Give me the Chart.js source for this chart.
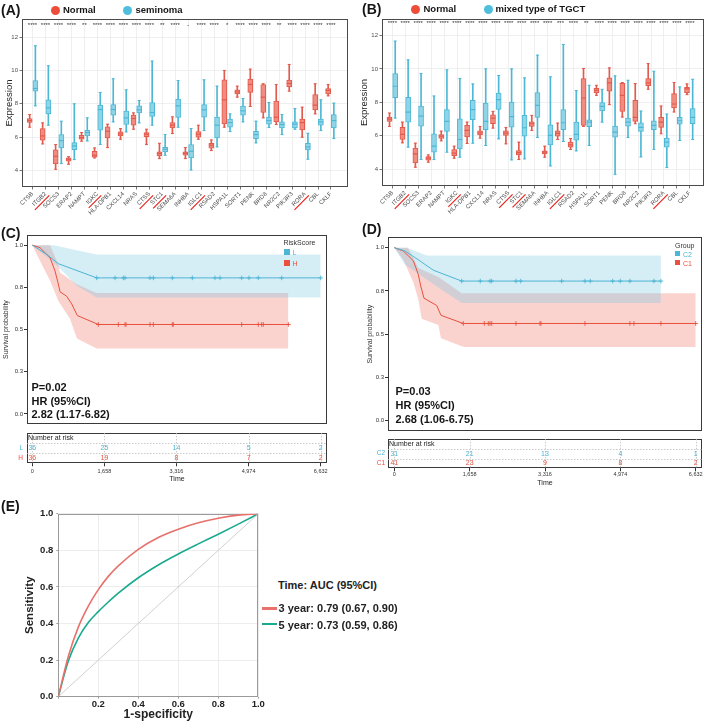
<!DOCTYPE html>
<html><head><meta charset="utf-8">
<script src="https://cdn.jsdelivr.net/npm/chart.js@4/dist/chart.umd.min.js"></script>
<style>
html,body{margin:0;padding:0;background:#fff;}
#fig{position:relative;width:709px;height:722px;overflow:hidden;background:#fff;font-family:"Liberation Sans",Arial,Helvetica,sans-serif;color:#151515;}
canvas{position:absolute;}
.t{position:absolute;white-space:nowrap;line-height:1;transform:translateY(-50%);}
.b{font-weight:bold;}
.dot{position:absolute;border-radius:50%;}
.sq{position:absolute;width:5.5px;height:5.5px;}
.ln{position:absolute;height:2.5px;}
</style></head><body>
<div id="fig">
<canvas id="cA" width="355" height="250" style="left:0;top:0"></canvas>
<canvas id="cB" width="354" height="250" style="left:355px;top:0"></canvas>
<canvas id="cC" width="355" height="204" style="left:0;top:225px"></canvas>
<canvas id="cCt" width="355" height="65" style="left:0;top:425px"></canvas>
<canvas id="cD" width="354" height="209" style="left:355px;top:227px"></canvas>
<canvas id="cDt" width="354" height="60" style="left:355px;top:432px"></canvas>
<canvas id="cE" width="272" height="217" style="left:0;top:505px"></canvas>

<div class="t b" style="left:1px;top:10px;font-size:14px">(A)</div>
<div class="dot" style="left:50.5px;top:5.5px;width:9px;height:9px;background:#EE4D3A"></div>
<div class="t b" style="left:63px;top:10px;font-size:9.5px">Normal</div>
<div class="dot" style="left:123px;top:5.5px;width:9px;height:9px;background:#4DBFDD"></div>
<div class="t b" style="left:135.5px;top:10px;font-size:9.5px">seminoma</div>

<div class="t b" style="left:362px;top:9px;font-size:14px">(B)</div>
<div class="dot" style="left:410.5px;top:4.8px;width:9px;height:9px;background:#EE4D3A"></div>
<div class="t b" style="left:423.5px;top:9.3px;font-size:9.5px">Normal</div>
<div class="dot" style="left:483.8px;top:4.8px;width:9px;height:9px;background:#4DBFDD"></div>
<div class="t b" style="left:495.5px;top:9.3px;font-size:9.5px">mixed type of TGCT</div>

<div class="t b" style="left:1px;top:232.5px;font-size:14px">(C)</div>
<div class="t" style="left:283.5px;top:241.7px;font-size:7px;color:#333">RiskScore</div>
<div class="sq" style="left:284px;top:249.3px;background:#4DB6D5"></div>
<div class="t" style="left:292.5px;top:252px;font-size:7px;color:#4DB6D5">L</div>
<div class="sq" style="left:284px;top:260px;background:#E9503E"></div>
<div class="t" style="left:292.5px;top:262.8px;font-size:7px;color:#E9503E">H</div>
<div class="t b" style="left:31.5px;top:386.7px;font-size:11px">P=0.02</div>
<div class="t b" style="left:31.5px;top:400.5px;font-size:11px">HR (95%CI)</div>
<div class="t b" style="left:31.5px;top:414.3px;font-size:11px">2.82 (1.17-6.82)</div>

<div class="t b" style="left:362px;top:229.2px;font-size:14px">(D)</div>
<div class="t" style="left:675px;top:245px;font-size:7px;color:#333">Group</div>
<div class="sq" style="left:674.5px;top:250.8px;background:#4DB6D5"></div>
<div class="t" style="left:683px;top:253.5px;font-size:7px;color:#4DB6D5">C2</div>
<div class="sq" style="left:674.5px;top:259.8px;background:#E9503E"></div>
<div class="t" style="left:683px;top:262.5px;font-size:7px;color:#E9503E">C1</div>
<div class="t b" style="left:395.5px;top:391px;font-size:11px">P=0.03</div>
<div class="t b" style="left:395.5px;top:404.7px;font-size:11px">HR (95%CI)</div>
<div class="t b" style="left:395.5px;top:419px;font-size:11px">2.68 (1.06-6.75)</div>

<div class="t b" style="left:1px;top:506px;font-size:14px">(E)</div>
<div class="t b" style="left:278px;top:585px;font-size:11px;color:#222">Time: AUC (95%CI)</div>
<div class="ln" style="left:261.5px;top:607px;width:15.5px;background:#E8716C"></div>
<div class="t b" style="left:278.5px;top:608.3px;font-size:11px;color:#222">3 year: 0.79 (0.67, 0.90)</div>
<div class="ln" style="left:261.5px;top:622.8px;width:15.5px;background:#1AAA8E"></div>
<div class="t b" style="left:278.5px;top:625px;font-size:11px;color:#222">5 year: 0.73 (0.59, 0.86)</div>
</div>

<script>
// ---------------- DATA ----------------
const genes = ["CTSB","ITGB2","SOCS3","ERAP2","NAMPT","IGKC","HLA-DPB1","CXCL14","NRAS","CTSS","STC1","SEMA6A","INHBA","IGLC1","RSAD2","HSPA1L","SORT1","PENK","BRD8","NR2C2","PIK3R3","RORA","CBL","CKLF"];
const underlinedGenes = ["ITGB2","IGKC","CTSS","STC1","IGLC1","RORA"];
const boxYTicks = [4, 6, 8, 10, 12];
const sigA = ["****","****","****","****","**","****","****","****","****","****","**","****","-","****","****","*","****","****","****","**","****","****","****","****"];
const sigB = ["****","****","****","****","****","****","****","****","****","****","****","****","****","***","****","**","****","****","****","****","****","****","****","****"];
// [min, q1, median, q3, max]
const normalA = [
[6.6,6.88,7.0,7.12,7.36],[5.6,5.82,6.08,6.52,6.86],[4.08,4.4,4.86,5.24,5.56],[4.38,4.56,4.68,4.76,4.84],
[5.76,5.88,5.98,6.12,6.28],[4.76,4.8,4.92,5.16,5.36],[5.38,5.96,6.36,6.62,6.78],[5.88,6.08,6.2,6.32,6.52],
[6.48,6.72,7.12,7.32,7.46],[5.56,6.04,6.18,6.28,6.48],[4.72,4.88,5.02,5.12,5.64],[6.22,6.56,6.72,6.88,7.22],
[4.72,4.92,5.04,5.12,5.38],[5.88,6.0,6.18,6.34,6.72],[5.2,5.34,5.52,5.64,5.84],[6.6,6.8,8.24,9.44,10.0],
[8.4,8.6,8.72,8.84,9.06],[7.84,8.68,9.16,9.48,10.08],[7.16,7.48,8.4,9.16,9.2],[6.76,6.92,7.2,8.16,9.16],
[8.76,9.02,9.22,9.42,10.36],[6.0,6.44,6.88,7.08,7.8],[7.4,7.64,7.92,8.56,9.2],[8.48,8.6,8.8,8.92,9.16]];
const seminomaA = [
[7.88,8.76,8.92,9.4,11.48],[6.72,7.4,7.76,8.24,10.28],[4.42,5.36,5.8,6.16,6.96],[4.66,5.26,5.48,5.68,8.0],
[5.78,6.08,6.28,6.42,7.16],[5.56,6.42,7.66,7.92,8.68],[6.92,7.32,7.66,7.96,9.5],[6.32,6.76,7.16,7.56,8.84],
[6.86,7.46,7.64,7.88,8.2],[6.72,7.24,7.48,8.08,10.56],[4.92,5.12,5.28,5.4,6.16],[6.6,7.18,7.88,8.28,9.4],
[4.04,4.76,5.16,5.56,6.52],[6.4,7.2,7.64,7.96,9.44],[5.42,5.96,6.72,7.2,9.06],[6.34,6.6,6.88,7.08,7.4],
[6.92,7.32,7.58,7.86,8.32],[5.66,5.92,6.16,6.36,6.96],[6.58,6.78,7.0,7.2,8.08],[6.16,6.56,6.76,6.92,7.36],
[6.48,6.56,6.78,6.92,7.72],[4.68,5.24,5.42,5.64,6.24],[6.4,6.72,6.92,7.08,8.24],[5.92,6.56,7.0,7.36,8.04]];
const normalB = [
[6.56,6.86,7.0,7.12,7.36],[5.58,5.78,6.08,6.5,6.82],[4.12,4.38,4.92,5.26,5.56],[4.42,4.54,4.66,4.76,4.86],
[5.7,5.84,5.98,6.08,6.28],[4.66,4.82,4.96,5.18,5.38],[5.54,5.94,6.32,6.62,6.82],[5.86,6.06,6.18,6.3,6.56],
[6.46,6.72,7.06,7.26,7.46],[5.52,6.02,6.16,6.3,6.5],[4.58,4.86,5.0,5.12,5.62],[6.32,6.56,6.72,6.84,7.22],
[4.72,4.92,5.02,5.1,5.38],[5.78,5.98,6.14,6.3,6.76],[5.18,5.32,5.46,5.62,5.84],[6.56,6.62,8.26,9.42,10.02],
[8.42,8.58,8.72,8.84,9.02],[7.86,8.66,9.16,9.46,10.06],[7.12,7.46,8.42,9.14,9.18],[6.72,6.86,7.1,8.12,9.12],
[8.78,9.0,9.16,9.42,10.32],[6.12,6.5,6.82,7.1,7.78],[7.42,7.66,7.9,8.52,9.18],[8.46,8.58,8.8,8.9,9.1]];
const mixedB = [
[7.06,8.28,8.96,9.72,11.66],[5.32,6.82,7.42,8.3,10.54],[4.58,6.58,7.18,7.78,9.72],[4.58,5.02,5.38,6.12,8.38],
[5.02,6.26,6.86,7.56,9.94],[4.72,5.22,5.78,7.02,9.42],[5.56,6.96,7.56,8.12,9.1],[5.42,6.36,6.86,7.96,10.0],
[5.82,7.58,8.16,8.56,9.6],[4.56,6.52,7.14,8.02,10.0],[4.62,5.98,6.48,7.22,9.46],[5.9,7.1,7.82,8.58,10.82],
[4.2,5.46,6.02,6.66,9.52],[5.66,6.36,6.78,7.56,11.46],[5.1,5.74,6.08,6.82,8.7],[5.42,6.54,6.82,6.96,9.02],
[6.82,7.48,7.76,7.98,8.78],[3.7,5.92,6.22,6.58,9.58],[5.9,6.58,6.82,7.06,9.32],[4.74,6.26,6.5,6.78,7.48],
[5.18,6.36,6.62,6.9,9.86],[4.1,5.32,5.62,5.86,7.3],[5.72,6.7,6.9,7.1,8.92],[5.78,6.72,7.1,7.62,9.38]];

// Kaplan-Meier (C)
const kmYTicks = [0, 0.25, 0.5, 0.75, 1];
const kmYLabels = ["0.0","0.3","0.5","0.8","1.0"];
const riskTimes = [0, 1658, 3316, 4974, 6632];
const riskTickLabels = ["0","1,658","3,316","4,974","6,632"];
const cL_t = [0, 330, 600, 1480, 6632];
const cL_s = [1, 0.945, 0.89, 0.806, 0.806];
const cL_bandT = [0, 330, 480, 600, 1020, 1480, 6632];
const cL_hi = [1, 1, 1, 0.993, 0.97, 0.945, 0.945];
const cL_lo = [1, 0.93, 0.9, 0.87, 0.76, 0.69, 0.69];
const cL_censT = [1481, 1903, 2093, 2132, 2707, 2783, 3220, 3680, 4201, 4316, 4815, 4983, 5197, 5735, 6632];
const cL_censS = [0.806,0.806,0.806,0.806,0.806,0.806,0.806,0.806,0.806,0.806,0.806,0.806,0.806,0.806,0.806];
const cH_t = [0, 177, 407, 522, 598, 637, 791, 906, 1035, 1518, 5888];
const cH_s = [1, 0.985, 0.926, 0.847, 0.77, 0.724, 0.697, 0.652, 0.583, 0.53, 0.53];
const cH_bandT = [0, 254, 407, 598, 637, 867, 1021, 1035, 1481, 5888];
const cH_hi = [1, 1, 1, 0.887, 0.838, 0.797, 0.769, 0.767, 0.716, 0.716];
const cH_lo = [1, 0.867, 0.79, 0.671, 0.655, 0.564, 0.45, 0.446, 0.388, 0.388];
const cH_censT = [1518, 1978, 2132, 2155, 2707, 2783, 3220, 3243, 4815, 5197, 5274, 5312, 5888];
const cH_censS = [0.53,0.53,0.53,0.53,0.53,0.53,0.53,0.53,0.53,0.53,0.53,0.53,0.53];
const riskC_L = [36, 25, 14, 5, 2];
const riskC_H = [36, 19, 8, 7, 2];

// Kaplan-Meier (D)
const dC2_t = [0, 235, 528, 858, 1483, 5867];
const dC2_s = [1, 0.981, 0.93, 0.87, 0.807, 0.807];
const dC2_bandT = [0, 235, 272, 713, 968, 1483, 5867];
const dC2_hi = [1, 1, 1, 0.955, 0.955, 0.955, 0.955];
const dC2_lo = [1, 0.902, 0.895, 0.816, 0.77, 0.681, 0.681];
const dC2_censT = [1483, 1892, 2105, 2143, 2677, 2781, 3683, 4195, 4312, 4805, 4972, 5185, 5713, 5867];
const dC2_censS = [0.807,0.807,0.807,0.807,0.807,0.807,0.807,0.807,0.807,0.807,0.807,0.807,0.807,0.807];
const dC1_t = [0, 198, 418, 528, 581, 653, 933, 1027, 1518, 6632];
const dC1_s = [1, 0.981, 0.925, 0.845, 0.779, 0.708, 0.666, 0.609, 0.562, 0.562];
const dC1_bandT = [0, 198, 300, 418, 528, 603, 968, 1027, 1483, 1555, 6632];
const dC1_hi = [1, 1, 1, 0.94, 0.883, 0.874, 0.83, 0.82, 0.736, 0.736, 0.736];
const dC1_lo = [1, 0.93, 0.87, 0.80, 0.70, 0.59, 0.553, 0.477, 0.43, 0.426, 0.426];
const dC1_censT = [1518, 1980, 2068, 2105, 2143, 2677, 3205, 3227, 4195, 5185, 5273, 5867, 6632];
const dC1_censS = [0.562,0.562,0.562,0.562,0.562,0.562,0.562,0.562,0.562,0.562,0.562,0.562,0.562];
const riskD_C2 = [31, 21, 13, 4, 1];
const riskD_C1 = [41, 23, 9, 8, 2];

// ROC (E)
const rocTicks = [0, 0.2, 0.4, 0.6, 0.8, 1.0];
const rocXLabels = ["", "0.2", "0.4", "0.6", "0.8", "1.0"];
const rocYLabels = ["0.0", "0.2", "0.4", "0.6", "0.8", "1.0"];
const diagX = [0, 1];
const diagY = [0, 1];
const rocFpr = [0, 0.05, 0.1, 0.15, 0.2, 0.25, 0.3, 0.4, 0.5, 0.6, 0.7, 0.8, 0.9, 1];
const roc3y = [0, 0.22, 0.38, 0.495, 0.585, 0.6575, 0.715, 0.805, 0.87, 0.915, 0.95, 0.975, 0.992, 1];
const roc5y = [0, 0.195, 0.32, 0.405, 0.465, 0.5175, 0.566, 0.65, 0.72, 0.78, 0.835, 0.888, 0.943, 1];

// ---------------- STYLE ----------------
const FONT = '"Liberation Sans", Arial, Helvetica, sans-serif';
Chart.defaults.font.family = FONT;
Chart.defaults.color = '#444';
const RED_FILL = '#F08C80', RED_LINE = '#E25A4D', BLUE_FILL = '#90D4E7', BLUE_LINE = '#4CB8D5';
const KM_BLUE = '#4DB4D4', KM_RED = '#E8503C';
const BASE = {responsive:false, animation:false, events:[], plugins:{legend:{display:false}, tooltip:{enabled:false}}};

function frame(color, width) {
  return {id:'frame', beforeDatasetsDraw(chart){
    const {ctx, chartArea:a} = chart;
    ctx.save(); ctx.strokeStyle = color; ctx.lineWidth = width;
    const l = Math.round(a.left)+0.5, t = Math.round(a.top)+0.5, r = Math.round(a.right)-0.5, b = Math.round(a.bottom)-0.5;
    ctx.strokeRect(l, t, r-l, b-t);
    ctx.restore();
  }};
}

function boxDatasets(stats, off, fill, line) {
  return [
    {type:'bar', data: stats.map((s,i)=>({x:i+1+off, y:[s[0], s[4]]})), backgroundColor: line, barThickness:1, grouped:false, order:4},
    {type:'bar', data: stats.map((s,i)=>({x:i+1+off, y:[s[1], s[3]]})), backgroundColor: fill, borderColor: line, borderWidth:1, borderSkipped:false, barThickness:5, grouped:false, order:3},
    {type:'scatter', data: stats.map((s,i)=>({x:i+1+off, y:s[2]})), pointStyle:'line', pointRadius:2.5, pointBorderColor: line, pointBorderWidth:1.2, order:1},
    {type:'scatter', data: stats.flatMap((s,i)=>[{x:i+1+off, y:s[0]},{x:i+1+off, y:s[4]}]), pointStyle:'line', pointRadius:1.5, pointBorderColor: line, pointBorderWidth:1, order:1}
  ];
}

function boxAnnot(sig, starY) {
  return {id:'boxAnnot', afterDraw(chart){
    const {ctx, scales:{x, y}} = chart;
    ctx.save();
    ctx.fillStyle = '#333'; ctx.font = '6px ' + FONT; ctx.textAlign = 'center'; ctx.textBaseline = 'middle';
    sig.forEach((s,i)=> ctx.fillText(s, x.getPixelForValue(i+1), y.getPixelForValue(starY)));
    const fs = 6, lh = fs*1.2, tl = x.options.grid.tickLength, pad = x.options.ticks.padding;
    ctx.font = fs + 'px ' + FONT;
    ctx.strokeStyle = '#E8231C'; ctx.lineWidth = 1.2;
    genes.forEach((g,i)=>{
      if (!underlinedGenes.includes(g)) return;
      const w = ctx.measureText(g).width;
      const ax = x.getPixelForValue(i+1) - (lh/2)*Math.SQRT1_2;
      const ay = x.top + tl + pad;
      ctx.save(); ctx.translate(ax, ay); ctx.rotate(-Math.PI/4);
      const uy = lh/2 + fs*0.6 + 0.8;
      ctx.beginPath(); ctx.moveTo(-w-2, uy); ctx.lineTo(1, uy); ctx.stroke();
      ctx.restore();
    });
    ctx.restore();
  }};
}

function makeBox(id, normal, tumor, sig, xr, yr, yw, xh, padTop, padRight) {
  new Chart(document.getElementById(id), {
    type:'bar',
    data:{datasets:[...boxDatasets(normal, -0.22, RED_FILL, RED_LINE), ...boxDatasets(tumor, 0.22, BLUE_FILL, BLUE_LINE)]},
    options:{...BASE,
      layout:{padding:{left:0, top:padTop, right:padRight, bottom:0}},
      scales:{
        x:{type:'linear', min:xr[0], max:xr[1], offset:false,
          afterBuildTicks: s => { s.ticks = genes.map((g,i)=>({value:i+1})); },
          afterFit: s => { s.height = xh; },
          grid:{color:'#EBEBEB', lineWidth:0.8, offset:false, tickLength:2.5, tickColor:'#555'},
          border:{display:false},
          ticks:{autoSkip:false, minRotation:45, maxRotation:45, padding:1, font:{size:6}, color:'#4D4D4D',
            callback: v => genes[Math.round(v)-1] || ''}},
        y:{type:'linear', min:yr[0], max:yr[1], beginAtZero:false,
          afterBuildTicks: s => { s.ticks = boxYTicks.map(v=>({value:v})); },
          afterFit: s => { s.width = yw; },
          grid:{color:'#EBEBEB', lineWidth:0.8, tickLength:2.5, tickColor:'#555'},
          border:{display:false},
          ticks:{padding:1.5, font:{size:6}, color:'#4D4D4D'},
          title:{display:true, text:'Expression', font:{size:9.5}, color:'#222', padding:{top:4, bottom:0}}}
      }
    },
    plugins:[frame('#4A4A4A', 1), boxAnnot(sig, 12.7)]
  });
}

makeBox('cA', normalA, seminomaA, sigA, [0.19, 25.31], [3.02, 13.08], 22, 63, 19, 7);
makeBox('cB', normalB, mixedB, sigB, [0.2, 25.08], [3.0, 12.98], 27, 64, 19, 4);

function pts(xs, ys) { return xs.map((x,i)=>({x, y:ys[i]})); }

function makeKM(id, groups, xr, yw, tpad, padTop, padRight) {
  const ds = [];
  groups.forEach(g => {
    ds.push({type:'line', data: pts(g.bandT, g.hi), borderWidth:0, pointRadius:0, fill:'+1', backgroundColor:g.band, order:5});
    ds.push({type:'line', data: pts(g.bandT, g.lo), borderWidth:0, pointRadius:0, fill:false, order:5});
  });
  groups.forEach(g => {
    ds.push({type:'line', data: pts(g.t, g.s), borderColor:g.color, borderWidth:1, pointRadius:0, fill:false, tension:0, order:2});
    ds.push({type:'scatter', data: pts(g.censT, g.censS), pointStyle:'cross', pointRadius:2.3, pointBorderColor:g.color, pointBorderWidth:0.9, order:1});
  });
  new Chart(document.getElementById(id), {
    type:'line', data:{datasets:ds},
    options:{...BASE,
      layout:{padding:{left:0, top:padTop, right:padRight, bottom:2}},
      scales:{
        x:{type:'linear', display:false, min:xr[0], max:xr[1]},
        y:{type:'linear', min:-0.06, max:1.06,
          afterBuildTicks: s => { s.ticks = kmYTicks.map(v=>({value:v})); },
          afterFit: s => { s.width = yw; },
          grid:{drawOnChartArea:false, tickLength:3, tickColor:'#333'},
          border:{display:false},
          ticks:{padding:1, font:{size:6}, color:'#333', callback:(v,i)=>kmYLabels[i]},
          title:{display:true, text:'Survival probability', font:{size:7}, color:'#333', padding:{top:tpad, bottom:0}}}
      }
    },
    plugins:[frame('#3A3A3A', 1)]
  });
}

makeKM('cC', [
  {bandT:cL_bandT, hi:cL_hi, lo:cL_lo, band:'rgba(120,200,225,0.31)', t:cL_t, s:cL_s, censT:cL_censT, censS:cL_censS, color:KM_BLUE},
  {bandT:cH_bandT, hi:cH_hi, lo:cH_lo, band:'rgba(240,110,95,0.30)', t:cH_t, s:cH_s, censT:cH_censT, censS:cH_censS, color:KM_RED}
], [-122, 6777], 27, 2.1, 10, 28);

makeKM('cD', [
  {bandT:dC2_bandT, hi:dC2_hi, lo:dC2_lo, band:'rgba(120,200,225,0.31)', t:dC2_t, s:dC2_s, censT:dC2_censT, censS:dC2_censS, color:KM_BLUE},
  {bandT:dC1_bandT, hi:dC1_hi, lo:dC1_lo, band:'rgba(240,110,95,0.30)', t:dC1_t, s:dC1_s, censT:dC1_censT, censS:dC1_censS, color:KM_RED}
], [-139, 6771], 33, 11.3, 10.3, 7);

function riskPlugin(counts, colors) {
  return {id:'risk', afterDraw(chart){
    const {ctx, chartArea:a, scales:{x, y}} = chart;
    ctx.save();
    ctx.strokeStyle = '#BDBDBD'; ctx.lineWidth = 0.8; ctx.setLineDash([1.5, 1.5]);
    riskTimes.forEach(t => { const px = Math.round(x.getPixelForValue(t))+0.5; ctx.beginPath(); ctx.moveTo(px, a.top); ctx.lineTo(px, a.bottom); ctx.stroke(); });
    [0.5, 1.5].forEach(r => { const py = Math.round(y.getPixelForValue(r))+0.5; ctx.beginPath(); ctx.moveTo(a.left, py); ctx.lineTo(a.right, py); ctx.stroke(); });
    ctx.setLineDash([]);
    ctx.font = '7px ' + FONT; ctx.textBaseline = 'middle';
    ctx.fillStyle = '#222'; ctx.textAlign = 'left';
    ctx.fillText('Number at risk', a.left + 1, y.getPixelForValue(0));
    ctx.textAlign = 'center';
    counts.forEach((row, r) => {
      ctx.fillStyle = colors[r+1];
      row.forEach((n, j) => ctx.fillText(String(n), x.getPixelForValue(riskTimes[j]), y.getPixelForValue(r+1)));
    });
    ctx.restore();
  }};
}

function makeRisk(id, rows, colors, counts, xr, yw, ypad, xh, tp, tb, padRight) {
  new Chart(document.getElementById(id), {
    type:'scatter', data:{datasets:[]},
    options:{...BASE,
      layout:{padding:{left:0, top:2, right:padRight, bottom:0}},
      scales:{
        x:{type:'linear', min:xr[0], max:xr[1],
          afterBuildTicks: s => { s.ticks = riskTimes.map(v=>({value:v})); },
          afterFit: s => { s.height = xh; },
          grid:{drawOnChartArea:false, tickLength:3, tickColor:'#333'},
          border:{display:false},
          ticks:{autoSkip:false, padding:tp, font:{size:5.5}, color:'#333', maxRotation:0, callback:(v,i)=>riskTickLabels[i]},
          title:{display:true, text:'Time', font:{size:7}, color:'#222', padding:{top:0, bottom:tb}}},
        y:{type:'category', labels:rows, offset:true,
          afterFit: s => { s.width = yw; },
          grid:{display:false, drawTicks:false},
          border:{display:false},
          ticks:{autoSkip:false, padding:ypad, font:{size:6.5}, color: c => colors[c.index], callback:(v,i)=> i === 0 ? '' : rows[i]}}
      }
    },
    plugins:[frame('#3A3A3A', 1), riskPlugin(counts, colors)]
  });
}

makeRisk('cCt', ['Number at risk','L','H'], ['#222', KM_BLUE, KM_RED], [riskC_L, riskC_H], [-122, 6777], 27, 4, 26.7, 2.1, 6.5, 28);
makeRisk('cDt', ['Number at risk','C2','C1'], ['#222', KM_BLUE, KM_RED], [riskD_C2, riskD_C1], [-139, 6771], 33, 3, 23.7, 0, 5.1, 7);

new Chart(document.getElementById('cE'), {
  type:'line',
  data:{datasets:[
    {data: pts(diagX, diagY), borderColor:'#C4C4C4', borderWidth:0.8, pointRadius:0, fill:false},
    {data: pts(rocFpr, roc3y), borderColor:'#E8716C', borderWidth:1.6, pointRadius:0, fill:false, cubicInterpolationMode:'monotone'},
    {data: pts(rocFpr, roc5y), borderColor:'#1AAA8E', borderWidth:1.6, pointRadius:0, fill:false, cubicInterpolationMode:'monotone'}
  ]},
  options:{...BASE,
    layout:{padding:{left:0, top:7.3, right:13.7, bottom:0}},
    scales:{
      x:{type:'linear', min:0, max:1,
        afterBuildTicks: s => { s.ticks = rocTicks.map(v=>({value:v})); },
        afterFit: s => { s.height = 25.3; },
        grid:{color:'#E8E8E8', lineWidth:0.8, tickLength:2, tickColor:'#888'},
        border:{display:false},
        ticks:{padding:0, font:{size:9.5, weight:'bold'}, color:'#222', maxRotation:0, callback:(v,i)=>rocXLabels[i]},
        title:{display:true, text:'1-specificity', font:{size:12, weight:'bold'}, color:'#222', padding:{top:0, bottom:0}}},
      y:{type:'linear', min:0, max:1,
        afterBuildTicks: s => { s.ticks = rocTicks.map(v=>({value:v})); },
        afterFit: s => { s.width = 58.3; },
        grid:{color:'#E8E8E8', lineWidth:0.8, tickLength:2, tickColor:'#888'},
        border:{display:false},
        ticks:{padding:3, font:{size:9.5, weight:'bold'}, color:'#222', callback:(v,i)=>rocYLabels[i]},
        title:{display:true, text:'Sensitivity', font:{size:11.5, weight:'bold'}, color:'#222', padding:{top:23, bottom:0}}}
    }
  },
  plugins:[frame('#9A9A9A', 1)]
});
</script>
</body></html>
